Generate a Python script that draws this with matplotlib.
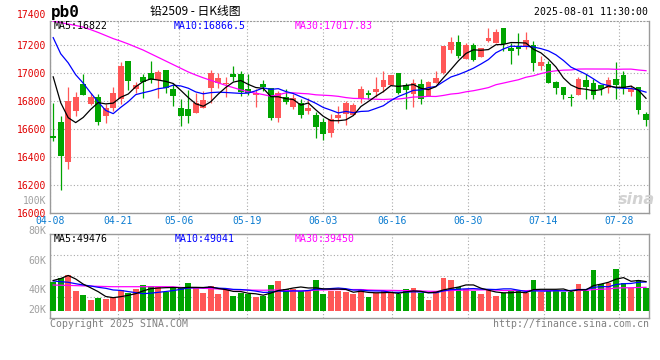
import numpy as np
import pandas as pd
import matplotlib
matplotlib.use("Agg")
import matplotlib.pyplot as plt

# ---------------- data ----------------
holidays = ["2025-05-01", "2025-05-02", "2025-05-05", "2025-06-02"]
dates = [d for d in pd.bdate_range("2025-04-08", "2025-08-01") if d.strftime("%Y-%m-%d") not in holidays]
date_labels = [d.strftime("%m-%d") for d in dates]

open_ = [16552, 16652, 16367, 16731, 16921, 16779, 16833, 16695, 16755, 16814,
         17086, 16886, 16971, 17000, 16952, 17021, 16890, 16755, 16743, 16714,
         16755, 16898, 16933, 16926, 16993, 16993, 16886, 16843, 16921, 16898,
         16679, 16833, 16760, 16790, 16731, 16700, 16652, 16571, 16679, 16707,
         16700, 16814, 16855, 16867, 16902, 16917, 17000, 16914, 16850, 16921,
         16838, 16928, 17000, 17167, 17226, 17100, 17200, 17117, 17231, 17214,
         17321, 17179, 17195, 17195, 17200, 17052, 17064, 16938, 16905, 16829,
         16845, 16950, 16933, 16914, 16893, 16962, 16986, 16869, 16902, 16707]
high = [16786, 16695, 16905, 16867, 16993, 16857, 16850, 16779, 16902, 17081,
        17086, 16938, 16993, 17086, 17024, 17021, 16921, 16814, 16883, 16857,
        16874, 17024, 17000, 16976, 17052, 17017, 16993, 16886, 16950, 16898,
        16874, 16890, 16850, 16814, 16826, 16724, 16683, 16707, 16767, 16802,
        16790, 16910, 16883, 16976, 17014, 16986, 17000, 16928, 16957, 16962,
        16945, 17017, 17195, 17262, 17274, 17219, 17219, 17179, 17321, 17314,
        17321, 17219, 17286, 17298, 17231, 17124, 17088, 16945, 16905, 16850,
        16976, 16993, 16962, 16914, 16974, 17083, 17017, 16914, 16902, 16724]
low = [16517, 16167, 16319, 16695, 16843, 16772, 16629, 16643, 16731, 16779,
       16879, 16857, 16824, 16933, 16824, 16862, 16767, 16624, 16648, 16714,
       16755, 16790, 16898, 16833, 16945, 16838, 16843, 16762, 16874, 16667,
       16652, 16783, 16748, 16683, 16707, 16540, 16524, 16548, 16648, 16629,
       16700, 16786, 16814, 16833, 16867, 16917, 16850, 16748, 16762, 16779,
       16838, 16928, 16995, 17143, 17107, 17100, 17088, 17117, 17224, 17214,
       17160, 17069, 17129, 17176, 17017, 17021, 16933, 16850, 16819, 16767,
       16845, 16819, 16819, 16843, 16857, 16819, 16850, 16838, 16707, 16624]
close = [16540, 16410, 16802, 16829, 16843, 16829, 16652, 16755, 16857, 17052,
         16945, 16914, 16938, 16952, 17010, 16898, 16838, 16695, 16695, 16786,
         16810, 17000, 16969, 16931, 16976, 16867, 16862, 16857, 16902, 16679,
         16862, 16795, 16826, 16702, 16755, 16617, 16564, 16671, 16700, 16786,
         16771, 16886, 16850, 16890, 16950, 16986, 16857, 16881, 16928, 16814,
         16938, 16964, 17195, 17226, 17124, 17200, 17095, 17179, 17250, 17298,
         17212, 17160, 17176, 17236, 17076, 17083, 16933, 16898, 16845, 16824,
         16962, 16902, 16845, 16886, 16952, 16917, 16898, 16890, 16736, 16667]
volume = [49100, 54800, 60300, 34000, 26800, 18400, 22300, 20100, 24000, 35200,
          29600, 36300, 43600, 42400, 40700, 32300, 38000, 40700, 46400, 40700,
          30700, 42400, 28500, 36900, 25600, 29600, 28000, 24000, 25100, 43600,
          50800, 36900, 36300, 33500, 35200, 51900, 28500, 34000, 34000, 32300,
          28500, 36900, 24000, 30700, 33500, 30700, 28500, 36900, 39000, 29600,
          18400, 33500, 55800, 51900, 40700, 36300, 33500, 28500, 35200, 25600,
          29600, 34000, 34000, 29600, 51900, 32300, 34000, 34000, 32300, 32300,
          45200, 34000, 68700, 45200, 47400, 70900, 47400, 38000, 51900, 38000]

# moving-average values before enough bars are available
ma5_head = [16975, 16790, 16683, 16648]
ma10_head = [17255, 17140, 17075, 16990, 16930, 16860, 16795, 16735, 16712]
ma30_head = [17372, 17362, 17352, 17342, 17330, 17312, 17292, 17270, 17248, 17230,
             17210, 17188, 17166, 17140, 17114, 17088, 17062, 17036, 17010, 16988,
             16968, 16950, 16932, 16914, 16898, 16882, 16868, 16858, 16848]
vma5_head = [51100, 54400, 59500, 53600]
vma10_head = [50300, 49100, 48100, 45700, 43600, 41900, 39700, 38000, 35200]
vma30_head = [43500, 43200, 42900, 42500, 42100, 41700, 41300, 41000, 40700,
              40700, 40700, 40700, 40700, 40700, 40700, 40700, 40500, 39500,
              39000, 38500, 38000, 37500, 36800, 36300, 35800, 35400, 35100,
              34900, 34800]

tick_dates = ["04-08", "04-21", "05-06", "05-19", "06-03", "06-16", "06-30", "07-14", "07-28"]
price_ticks = [16000, 16200, 16400, 16600, 16800, 17000, 17200]


def moving_avg(vals, n, head):
    out = list(head)
    for i in range(len(head), len(vals)):
        out.append(float(np.mean(vals[i - n + 1:i + 1])))
    return np.array(out)


o = np.array(open_, float)
h = np.array(high, float)
l = np.array(low, float)
c = np.array(close, float)
v = np.array(volume, float)
x = np.arange(len(c))

ma5 = moving_avg(c, 5, ma5_head)
ma10 = moving_avg(c, 10, ma10_head)
ma30 = moving_avg(c, 30, ma30_head)
vma5 = moving_avg(v, 5, vma5_head)
vma10 = moving_avg(v, 10, vma10_head)
vma30 = moving_avg(v, 30, vma30_head)

RED = "#FF5757"
GREEN = "#00A400"
colors = [RED if cc >= oo else GREEN for oo, cc in zip(o, c)]

MONO = "DejaVu Sans Mono"
GRID = dict(color="#A8A8A8", lw=0.8, ls=(0, (1, 2)))
SPINE = "#9A9A9A"

W, H = 660, 360
fig = plt.figure(figsize=(W / 100, H / 100), dpi=100)


def px_axes(left, top, right, bottom):
    return fig.add_axes([left / W, 1 - bottom / H, (right - left) / W, (bottom - top) / H])


axp = px_axes(50, 20.7, 649, 213.3)
axv = px_axes(50, 234.3, 649, 317.7)

xlim = (-0.36, 79.4)
tick_idx = np.array([date_labels.index(t) for t in tick_dates], float)
tick_pos = tick_idx + (tick_idx - 36) * 0.0118   # date grid runs slightly wider than bars

# ---------------- price panel ----------------
body_lo = np.minimum(o, c)
body_h = np.abs(c - o)
min_h = 9.0
body_lo = np.where(body_h < min_h, (o + c) / 2 - min_h / 2, body_lo)
body_h = np.maximum(body_h, min_h)
axp.vlines(x, l, h, colors=colors, lw=0.9, zorder=2)
axp.bar(x, body_h, bottom=body_lo, width=0.76, color=colors, linewidth=0, zorder=3)
axp.plot(x, ma30, color="#FF00FF", lw=0.9, zorder=4)
axp.plot(x, ma10, color="#0000FF", lw=0.9, zorder=4)
axp.plot(x, ma5, color="#000000", lw=0.9, zorder=5)

axp.set_xlim(*xlim)
axp.set_ylim(16000, 17376)
axp.set_yticks(price_ticks)
axp.set_yticklabels([str(p) for p in price_ticks], fontfamily=MONO, fontsize=7, color="#E00000")
axp.set_xticks(tick_pos)
axp.set_xticklabels(tick_dates, fontfamily=MONO, fontsize=7, color="#0A7BD0")
axp.tick_params(axis="both", length=0)
axp.tick_params(axis="y", pad=3)
axp.tick_params(axis="x", pad=2.0)
axp.grid(True, **GRID)
axp.set_axisbelow(True)
for s in axp.spines.values():
    s.set_color(SPINE)
    s.set_linewidth(1)
axp.spines["top"].set_linestyle((0, (1, 2)))
axp.spines["top"].set_linewidth(0.8)

axp.text(-0.006, 1.03, "17400", transform=axp.transAxes, ha="right", va="center",
         fontfamily=MONO, fontsize=7, color="#E00000")
axp.text(-0.006, 0.066, "100K", transform=axp.transAxes, ha="right", va="center",
         fontfamily=MONO, fontsize=7, color="#A0A0A0")

axp.text(0.006, 0.975, "MA5:16822", transform=axp.transAxes, ha="left", va="center",
         fontfamily=MONO, fontsize=7.1, color="#000000", zorder=6)
axp.text(0.207, 0.975, "MA10:16866.5", transform=axp.transAxes, ha="left", va="center",
         fontfamily=MONO, fontsize=7.1, color="#0000FF", zorder=6)
axp.text(0.409, 0.975, "MA30:17017.83", transform=axp.transAxes, ha="left", va="center",
         fontfamily=MONO, fontsize=7.1, color="#FF00FF", zorder=6)

# sina watermark
fig.text(636 / W, 1 - 199 / H, "sina", ha="center", va="center", fontsize=11.5,
         fontweight="bold", style="italic", color="#D2D2D2", family="DejaVu Sans")

# ---------------- volume panel ----------------
axv.bar(x, v, width=0.76, color=colors, linewidth=0, zorder=3)
axv.plot(x, vma30, color="#FF00FF", lw=0.9, zorder=4)
axv.plot(x, vma10, color="#0000FF", lw=0.9, zorder=4)
axv.plot(x, vma5, color="#000000", lw=0.9, zorder=5)
axv.set_xlim(*xlim)
vlo, vhi = -11220, 128470
axv.set_ylim(vlo, vhi)
axv.set_yticks([vlo + (vhi - vlo) * k / 4 for k in (1, 2, 3)])
axv.set_yticklabels([])
axv.set_xticks(tick_pos)
axv.set_xticklabels([])
axv.tick_params(axis="both", length=0)
axv.grid(True, **GRID)
axv.set_axisbelow(True)
for s in axv.spines.values():
    s.set_color(SPINE)
    s.set_linewidth(1)

for lab, f in [("80K", 1.04), ("60K", 0.683), ("40K", 0.332), ("20K", 0.092)]:
    axv.text(-0.006, f, lab, transform=axv.transAxes, ha="right", va="center",
             fontfamily=MONO, fontsize=7.1, color="#A0A0A0")

axv.text(0.006, 0.944, "MA5:49476", transform=axv.transAxes, ha="left", va="center",
         fontfamily=MONO, fontsize=7.1, color="#000000", zorder=6)
axv.text(0.208, 0.944, "MA10:49041", transform=axv.transAxes, ha="left", va="center",
         fontfamily=MONO, fontsize=7.1, color="#0000FF", zorder=6)
axv.text(0.409, 0.944, "MA30:39450", transform=axv.transAxes, ha="left", va="center",
         fontfamily=MONO, fontsize=7.1, color="#FF00FF", zorder=6)

# ---------------- header / footer ----------------
fig.text(51 / W, 1 - 12 / H, "pb0", ha="left", va="center", fontfamily=MONO,
         fontsize=11.5, fontweight="bold", color="#000000")
fig.text(195 / W, 1 - 12 / H, "铅2509 - 日K线图", ha="center", va="center",
         family=["Noto Sans CJK SC", "DejaVu Sans"], fontsize=8.5, color="#000000")
fig.text(648 / W, 1 - 12 / H, "2025-08-01 11:30:00", ha="right", va="center",
         fontfamily=MONO, fontsize=7.1, color="#000000")
fig.text(50 / W, 1 - 324 / H, "Copyright 2025 SINA.COM", ha="left", va="center",
         fontfamily=MONO, fontsize=7.1, color="#808080")
fig.text(649 / W, 1 - 324 / H, "http://finance.sina.com.cn", ha="right", va="center",
         fontfamily=MONO, fontsize=7.1, color="#808080")

fig.savefig("out.png", dpi=100, facecolor="white")
